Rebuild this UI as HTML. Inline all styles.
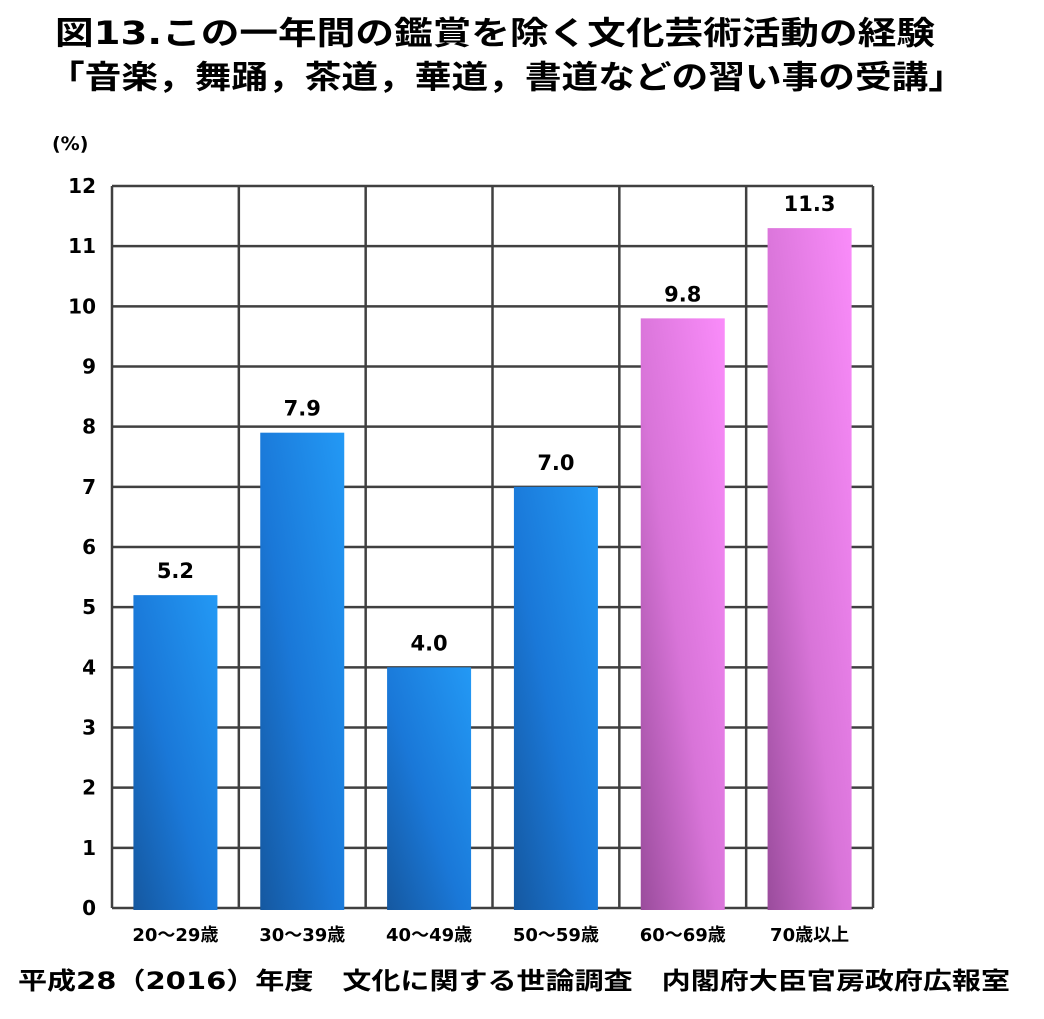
<!DOCTYPE html>
<html><head><meta charset="utf-8"><style>
body{margin:0;background:#fff;width:1044px;height:1019px;overflow:hidden;font-family:"DejaVu Sans","Noto Sans CJK JP",sans-serif;}
svg text{font-family:"DejaVu Sans","Noto Sans CJK JP",sans-serif;}
</style></head><body>
<svg width="1044" height="1019" style="position:absolute;left:0;top:0">
<defs>
<linearGradient id="gb" x1="0" y1="1" x2="1" y2="0"><stop offset="0" stop-color="#1558a0"/><stop offset="0.45" stop-color="#1a78d8"/><stop offset="1" stop-color="#2399f5"/></linearGradient>
<linearGradient id="gp" x1="0" y1="1" x2="1" y2="0"><stop offset="0" stop-color="#9a4c9c"/><stop offset="0.45" stop-color="#d874d8"/><stop offset="1" stop-color="#fa8cfa"/></linearGradient>
</defs>
<text x="55" y="44" font-size="32" font-weight="bold" fill="#000" textLength="880" lengthAdjust="spacingAndGlyphs">図13.この一年間の鑑賞を除く文化芸術活動の経験</text>
<text x="48" y="88" font-size="32" font-weight="bold" fill="#000" textLength="917" lengthAdjust="spacingAndGlyphs">「音楽，舞踊，茶道，華道，書道などの習い事の受講」</text>
<text x="52" y="150" font-size="19" font-weight="bold">(%)</text>
<g id="grid"></g><g id="bars"></g><g id="labels"></g>
<text x="18" y="989" font-size="24" font-weight="bold" textLength="992" lengthAdjust="spacingAndGlyphs">平成28（2016）年度　文化に関する世論調査　内閣府大臣官房政府広報室</text>
</svg>
<script>
const categories=["20～29歳","30～39歳","40～49歳","50～59歳","60～69歳","70歳以上"];
const values=[5.2,7.9,4.0,7.0,9.8,11.3];
const valueLabels=["5.2","7.9","4.0","7.0","9.8","11.3"];
const yTicks=[0,1,2,3,4,5,6,7,8,9,10,11,12];
const L=112,R=873,T=186,B=908,ymax=12;
const slot=(R-L)/categories.length;
const y=v=>B-(v/ymax)*(B-T);
const x=i=>L+slot*(i+0.5);
const NS="http://www.w3.org/2000/svg";
function mk(t,a,p){const e=document.createElementNS(NS,t);for(const k in a)e.setAttribute(k,a[k]);p.appendChild(e);return e;}
const g=document.getElementById('grid'),gb=document.getElementById('bars'),gl=document.getElementById('labels');
yTicks.forEach(v=>{
 const ln=mk('line',{x1:L,x2:R,y1:y(v),y2:y(v),stroke:'#404040','stroke-width':2.5},g);
 
 
 const t=mk('text',{x:96,y:y(v)+7,'font-size':20,'font-weight':'bold','text-anchor':'end'},g);
 t.textContent=v;
 
 
});
for(let i=0;i<=categories.length;i++){
 const ln=mk('line',{x1:L+slot*i,x2:L+slot*i,y1:T,y2:B,stroke:'#404040','stroke-width':2.5},g);
 
 
}
const bw=84;
values.forEach((v,i)=>{
 const r=mk('rect',{x:x(i)-bw/2,y:y(v),width:bw,height:B+2-y(v),fill:i>=4?'url(#gp)':'url(#gb)'},gb);
 
 
 const t=mk('text',{x:x(i),y:y(v)-17,'font-size':21,'font-weight':'bold','text-anchor':'middle'},gl);
 t.textContent=valueLabels[i];
 
 
 const c=mk('text',{x:x(i),y:941,'font-size':18,'font-weight':'bold','text-anchor':'middle'},gl);
 c.textContent=categories[i];
 
 
});
</script>
</body></html>
